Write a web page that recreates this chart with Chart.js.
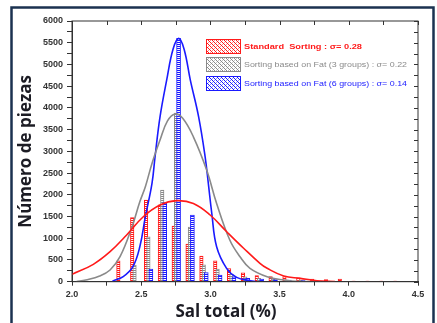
<!DOCTYPE html>
<html>
<head>
<meta charset="utf-8">
<script src="https://cdn.jsdelivr.net/npm/chart.js@4.4.1/dist/chart.umd.min.js"></script>
<style>
  html, body { margin: 0; padding: 0; background: #fff; }
  #wrap { width: 437px; height: 323px; }
</style>
</head>
<body>
<div id="wrap"><canvas id="grafico" width="437" height="323"></canvas></div>
<script>
// Histogramas (posicion del bin en % sal, numero de piezas)
const redBinX   = [2.335, 2.435, 2.535, 2.635, 2.735, 2.835, 2.935, 3.035, 3.135, 3.235, 3.335, 3.435, 3.535, 3.635, 3.735, 3.835, 3.935, 4.035, 4.135, 4.235, 4.335];
const redCount  = [480, 1475, 1880, 1770, 1280, 865, 590, 480, 300, 205, 140, 115, 120, 90, 60, 50, 60, 15, 15, 15, 15];
const grayBinX  = [2.452, 2.552, 2.652, 2.752, 2.852, 2.952, 3.052, 3.152, 3.252, 3.352, 3.452, 3.552, 3.652, 3.752, 3.852];
const grayCount = [385, 1035, 2110, 3880, 1255, 390, 290, 175, 110, 80, 60, 40, 30, 25, 15];
const blueBinX  = [2.57, 2.67, 2.77, 2.87, 2.97, 3.07, 3.17, 3.27, 3.37, 3.47, 3.57, 3.67];
const blueCount = [290, 1820, 5600, 1535, 210, 155, 110, 80, 60, 50, 40, 25];

// Curvas de ajuste
const redFitX  = [2.0, 2.154, 2.275, 2.395, 2.515, 2.636, 2.756, 2.877, 2.998, 3.118, 3.24, 3.358, 3.41, 3.53, 3.65, 3.77, 3.9];
const redFitY  = [170, 400, 690, 1075, 1495, 1765, 1865, 1800, 1535, 1150, 770, 423, 308, 131, 77, 23, 5];
const grayFitX = [2.03, 2.1, 2.2, 2.275, 2.347, 2.43, 2.49, 2.53, 2.578, 2.636, 2.69, 2.744, 2.8, 2.877, 2.973, 3.045, 3.14, 3.214, 3.286, 3.41, 3.53, 3.65, 3.8];
const grayFitY = [0, 40, 131, 269, 575, 1228, 1840, 2185, 2723, 3260, 3700, 3860, 3760, 3335, 2570, 1800, 960, 575, 308, 115, 40, 5, 0];
const blueFitX = [2.29, 2.3, 2.37, 2.44, 2.49, 2.53, 2.578, 2.6, 2.636, 2.684, 2.73, 2.771, 2.81, 2.855, 2.915, 2.962, 2.985, 3.01, 3.045, 3.117, 3.19, 3.29, 3.33];
const blueFitY = [0, 23, 115, 345, 805, 1495, 2263, 2875, 3795, 4640, 5350, 5600, 5350, 4640, 3795, 2875, 2263, 1573, 805, 308, 100, 23, 0];

const seriesLabels = [
    'Standard  Sorting : \u03c3= 0.28',
    'Sorting based on Fat (3 groups) : \u03c3= 0.22',
    'Sorting based on Fat (6 groups) : \u03c3= 0.14'
];
const colores = ['#ff1a1a', '#8a8a8a', '#1a1aff'];

const pares = (xs, ys) => xs.map((x, i) => ({ x: x, y: ys[i] }));

// relleno punteado de las barras
function patronBarra(color) {
    const c = document.createElement('canvas');
    c.width = 2; c.height = 2;
    const g = c.getContext('2d');
    g.fillStyle = '#fff'; g.fillRect(0, 0, 2, 2);
    g.fillStyle = color; g.fillRect(0, 0, 2, 1);
    return g.createPattern(c, 'repeat');
}
// rayado de la leyenda
function patronLeyenda(color) {
    const c = document.createElement('canvas');
    c.width = 4; c.height = 4;
    const g = c.getContext('2d');
    g.fillStyle = '#fff'; g.fillRect(0, 0, 4, 4);
    g.fillStyle = color;
    for (let i = 0; i < 4; i++) g.fillRect(i, i, 1, 1);
    g.globalAlpha = 0.5;
    g.fillRect(2, 0, 1, 1); g.fillRect(0, 2, 1, 1);
    return g.createPattern(c, 'repeat');
}

const binX = [redBinX, grayBinX, blueBinX];
const counts = [redCount, grayCount, blueCount];
const fitX = [redFitX, grayFitX, blueFitX];
const fitY = [redFitY, grayFitY, blueFitY];

const datasets = [];
for (let i = 0; i < 3; i++) {
    datasets.push({
        type: 'line',
        label: seriesLabels[i] + ' fit',
        data: pares(fitX[i], fitY[i]),
        borderColor: colores[i],
        borderWidth: 1.6,
        pointRadius: 0,
        tension: 0.4,
        fill: false,
        order: 1
    });
}
for (let i = 0; i < 3; i++) {
    datasets.push({
        type: 'bar',
        label: seriesLabels[i],
        data: pares(binX[i], counts[i]),
        backgroundColor: patronBarra(colores[i]),
        borderColor: colores[i],
        borderWidth: 1,
        barThickness: i === 2 ? 4 : 3.5,
        grouped: false,
        order: 10 - i
    });
}

// marco azul oscuro, caja del grafico y ticks interiores
const marco = {
    id: 'marco',
    beforeDraw(chart) {
        const ctx = chart.ctx;
        ctx.save();
        ctx.fillStyle = '#fff';
        ctx.fillRect(0, 0, chart.width, chart.height);
        ctx.strokeStyle = '#1b3250';
        ctx.lineWidth = 2.5;
        ctx.strokeRect(11.5, 7.5, 422, 330);
        ctx.restore();
    },
    afterDraw(chart) {
        const ctx = chart.ctx;
        const a = chart.chartArea;
        const sx = chart.scales.x, sy = chart.scales.y;
        ctx.save();
        ctx.strokeStyle = '#333';
        ctx.lineWidth = 1;
        ctx.strokeRect(a.left, a.top, a.right - a.left, a.bottom - a.top);
        ctx.beginPath();
        sx.ticks.forEach(t => {
            const px = Math.round(sx.getPixelForValue(t.value)) + 0.5;
            ctx.moveTo(px, a.top); ctx.lineTo(px, a.top + 4);
        });
        sy.ticks.forEach(t => {
            const py = Math.round(sy.getPixelForValue(t.value)) + 0.5;
            ctx.moveTo(a.right, py); ctx.lineTo(a.right - 4, py);
        });
        ctx.stroke();

        // leyenda
        const cajaY = [39, 57, 76];
        const anchoTexto = [118, 163, 163];
        seriesLabels.forEach((txt, i) => {
            ctx.fillStyle = patronLeyenda(colores[i]);
            ctx.fillRect(206, cajaY[i], 35, 15);
            ctx.strokeStyle = colores[i];
            ctx.lineWidth = 1;
            ctx.strokeRect(206.5, cajaY[i] + 0.5, 34, 14);
            ctx.font = (i === 0 ? 'bold ' : '') + '7px "Liberation Sans"';
            ctx.fillStyle = colores[i];
            ctx.textBaseline = 'middle';
            const w = ctx.measureText(txt).width;
            ctx.save();
            ctx.translate(244, cajaY[i] + 8);
            ctx.scale(anchoTexto[i] / w, 1);
            ctx.fillText(txt, 0, 0);
            ctx.restore();
        });

        // titulo eje x
        ctx.font = 'bold 17px "Open Sans"';
        ctx.fillStyle = '#1c1c24';
        ctx.textAlign = 'center';
        ctx.textBaseline = 'middle';
        ctx.fillText('Sal total (%)', 226, 312);
        ctx.restore();
    }
};

const tickFont = { family: 'Liberation Sans', size: 9, weight: 'bold' };

new Chart(document.getElementById('grafico').getContext('2d'), {
    type: 'bar',
    data: { datasets: datasets },
    options: {
        responsive: false,
        animation: false,
        layout: { padding: { top: 21, right: 19, left: 0, bottom: 0 } },
        plugins: { legend: { display: false }, tooltip: { enabled: false } },
        scales: {
            x: {
                type: 'linear',
                min: 2.0, max: 4.5,
                offset: false,
                grid: { offset: false, drawOnChartArea: false, tickLength: 4, color: '#333' },
                border: { color: '#333' },
                ticks: {
                    stepSize: 0.25,
                    autoSkip: false,
                    maxRotation: 0,
                    padding: 3,
                    color: '#333',
                    font: tickFont,
                    callback: v => (Math.abs(v * 2 - Math.round(v * 2)) < 1e-6 ? v.toFixed(1) : '')
                },
                afterFit: s => { s.height = 41.3; }
            },
            y: {
                min: 0, max: 6000,
                grid: { drawOnChartArea: false, tickLength: 5, color: '#333' },
                border: { color: '#333' },
                ticks: {
                    stepSize: 250,
                    autoSkip: false,
                    padding: 4,
                    color: '#333',
                    font: tickFont,
                    callback: v => (v % 500 === 0 ? String(v) : '')
                },
                title: {
                    display: true,
                    text: 'Número de piezas',
                    color: '#1c1c24',
                    font: { family: 'Open Sans', size: 17, weight: 'bold' },
                    padding: { top: 16, bottom: 0 }
                },
                afterFit: s => { s.width = 72; }
            }
        }
    },
    plugins: [marco]
});
</script>
</body>
</html>
